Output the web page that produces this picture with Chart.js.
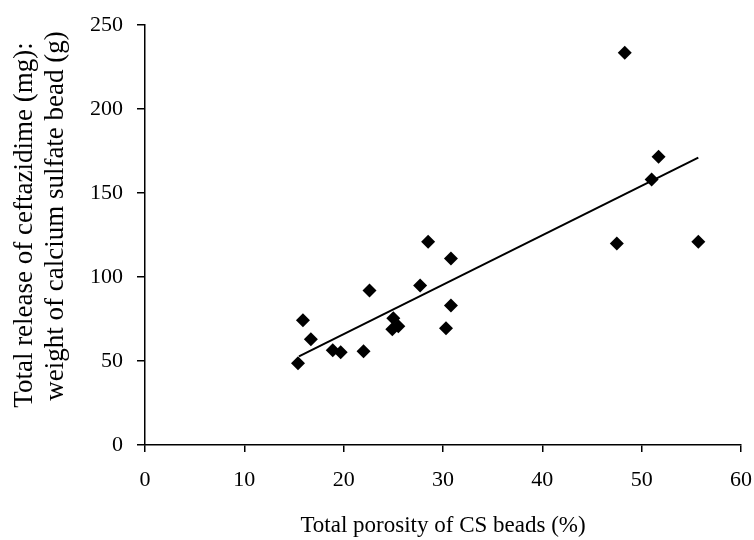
<!DOCTYPE html>
<html>
<head>
<meta charset="utf-8">
<script src="https://cdn.jsdelivr.net/npm/chart.js@4"></script>
<style>
  html, body { margin: 0; padding: 0; background: #fff; }
  #wrap { width: 754px; height: 540px; }
</style>
</head>
<body>
<div id="wrap"><canvas id="porosityChart"></canvas></div>
<script>
const porosity = [15.4, 15.9, 16.7, 18.9, 19.7, 22.0, 22.6, 25.0, 25.5, 24.9,
  27.7, 28.5, 30.3, 30.8, 30.8, 47.5, 48.3, 51.0, 51.7, 55.7];
const release = [48.7, 74.2, 63, 56.4, 55.2, 55.8, 92, 75.4, 70.7, 68.9,
  95, 121, 69.5, 111, 83, 120, 233.5, 158, 171.6, 121];
const trendX = [15.5, 55.7];
const trendY = [52.8, 171];
const xTicks = [0, 10, 20, 30, 40, 50, 60];
const yTicks = [0, 50, 100, 150, 200, 250];
const yTitleLines = ['Total release of ceftazidime (mg):', 'weight of calcium sulfate bead (g)'];

const serif = "'Liberation Serif', 'Times New Roman', serif";

// the y title is drawn by hand so the two lines sit where the original has them
const yTitlePlugin = {
  id: 'yTitle',
  afterDraw(chart) {
    const c = chart.ctx;
    const mid = (chart.chartArea.top + chart.chartArea.bottom) / 2;
    c.save();
    c.fillStyle = '#000';
    c.font = '27px ' + serif;
    c.textAlign = 'center';
    c.textBaseline = 'middle';
    [[25, mid - 10], [56, mid - 19]].forEach(([x, y], i) => {
      c.save();
      c.translate(x, y);
      c.rotate(-Math.PI / 2);
      c.fillText(yTitleLines[i], 0, 0);
      c.restore();
    });
    c.restore();
  },
};

const ctx = document.getElementById('porosityChart').getContext('2d');
new Chart(ctx, {
  type: 'scatter',
  data: {
    datasets: [
      {
        label: 'Beads',
        data: porosity.map((x, i) => ({ x: x, y: release[i] })),
        pointStyle: 'rectRot',
        pointRadius: 7,
        pointHoverRadius: 7,
        backgroundColor: '#000',
        borderColor: '#000',
        borderWidth: 0,
      },
      {
        label: 'Trend',
        type: 'line',
        data: trendX.map((x, i) => ({ x: x, y: trendY[i] })),
        borderColor: '#000',
        borderWidth: 2,
        pointRadius: 0,
        fill: false,
      },
    ],
  },
  plugins: [yTitlePlugin],
  options: {
    responsive: true,
    maintainAspectRatio: false,
    animation: false,
    layout: { padding: { top: 0, right: 0, left: 0, bottom: 0 } },
    plugins: {
      legend: { display: false },
      tooltip: { enabled: false },
    },
    scales: {
      x: {
        type: 'linear',
        min: 0,
        max: 60,
        afterBuildTicks: axis => { axis.ticks = xTicks.map(v => ({ value: v })); },
        afterFit: axis => { axis.paddingRight = 13; },
        ticks: { color: '#000', font: { family: serif, size: 22 }, padding: 15 },
        grid: { drawOnChartArea: false, drawTicks: true, tickLength: 7, color: '#000', lineWidth: 1.5 },
        border: { display: true, color: '#000', width: 1.5 },
        title: {
          display: true,
          text: 'Total porosity of CS beads (%)',
          color: '#000',
          font: { family: serif, size: 23 },
          padding: { top: 4, bottom: 0 },
        },
      },
      y: {
        type: 'linear',
        min: 0,
        max: 250,
        afterBuildTicks: axis => { axis.ticks = yTicks.map(v => ({ value: v })); },
        afterFit: axis => { axis.width = 145; axis.paddingTop = 25; },
        ticks: { color: '#000', font: { family: serif, size: 22 }, padding: 14 },
        grid: { drawOnChartArea: false, drawTicks: true, tickLength: 8, color: '#000', lineWidth: 1.5 },
        border: { display: true, color: '#000', width: 1.5 },
      },
    },
  },
});
</script>
</body>
</html>
